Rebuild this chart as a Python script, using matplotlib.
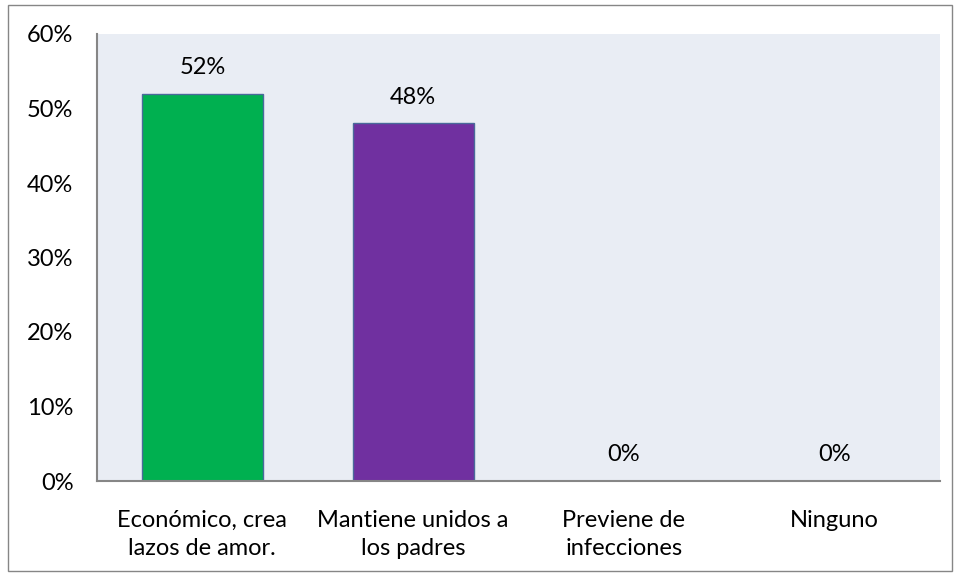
import matplotlib.pyplot as plt
from matplotlib.patches import Rectangle

categorias = ["Económico, crea\nlazos de amor.", "Mantiene unidos a\nlos padres",
              "Previene de\ninfecciones", "Ninguno"]
valores = [52, 48, 0, 0]
colores = ["#00B050", "#7030A0", "#4F81BD", "#4F81BD"]

plt.rcParams['font.family'] = ['Lato', 'DejaVu Sans']
fs = 17

fig = plt.figure(figsize=(9.6, 5.77), dpi=100)
ax = fig.add_axes([97/960, 1 - 481/577, (940-97)/960, (481-34)/577])
ax.set_facecolor("#E9EDF4")

x = range(len(categorias))
bars = ax.bar(x, valores, width=0.575, color=colores, edgecolor="#4A6A9A", linewidth=1)
for xi, v in zip(x, valores):
    ax.annotate(f"{v}%", (xi, v), xytext=(0, 19), textcoords="offset points",
                ha="center", va="center", fontsize=fs)

ax.set_xlim(-0.5, 3.5)
ax.set_ylim(0, 60)
ax.set_yticks(range(0, 61, 10))
ax.set_yticklabels([f"{t}%" for t in range(0, 61, 10)], fontsize=fs)
ax.set_xticks(list(x))
ax.set_xticklabels(categorias, fontsize=fs, linespacing=1.4)
ax.tick_params(axis="y", length=0, pad=17)
ax.tick_params(axis="x", length=0, pad=21)
for s in ["top", "right"]:
    ax.spines[s].set_visible(False)
for s in ["left", "bottom"]:
    ax.spines[s].set_color("#868686")
    ax.spines[s].set_linewidth(1.5)

fig.patches.append(Rectangle((8/960, 6/577), 944/960, 566/577, transform=fig.transFigure,
                             fill=False, edgecolor="#868686", linewidth=1))

fig.savefig("out.png", dpi=100)
